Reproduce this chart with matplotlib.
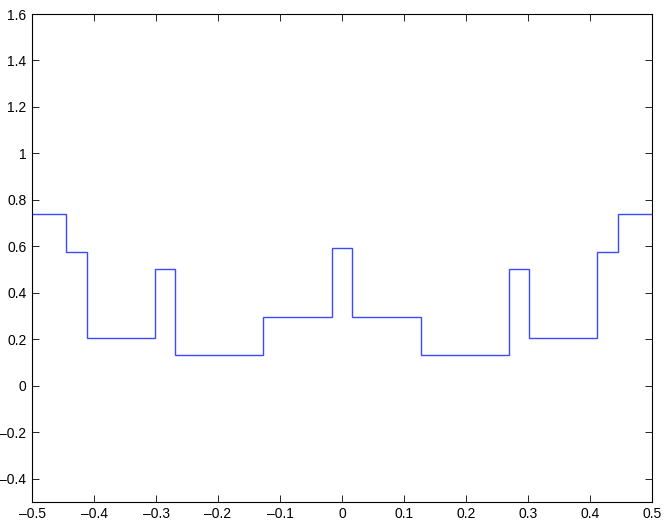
import numpy as np
import matplotlib.pyplot as plt
from matplotlib.ticker import FuncFormatter

# Piecewise-constant response
edges = [-0.5, -0.445, -0.412, -0.302, -0.270, -0.127, -0.0167,
         0.0167, 0.127, 0.270, 0.302, 0.412, 0.445, 0.5]
levels = [0.739, 0.574, 0.205, 0.501, 0.132, 0.295, 0.592,
          0.295, 0.132, 0.501, 0.205, 0.574, 0.739]

xticks = np.arange(-5, 6) / 10
yticks = np.arange(-4, 17, 2) / 10

plt.rcParams['font.family'] = ['Liberation Sans', 'DejaVu Sans']

fig = plt.figure(figsize=(6.67, 5.2), dpi=100)
ax = fig.add_axes([0.048, 0.035, 0.9295, 0.938])
ax.stairs(levels, edges, color="#3a4bff", linewidth=1.0, baseline=None)

ax.set_xlim(-0.5, 0.5)
ax.set_ylim(-0.5, 1.6)
ax.set_xticks(xticks)
ax.set_yticks(yticks)
fmt = FuncFormatter(lambda v, p: ("%g" % round(v, 2)).replace("-", "\u2013"))
ax.xaxis.set_major_formatter(fmt)
ax.yaxis.set_major_formatter(fmt)
ax.tick_params(direction="in", top=True, right=True, length=5, width=0.6,
               labelsize=10, pad=4)
for s in ax.spines.values():
    s.set_linewidth(0.8)

fig.savefig("out.png", dpi=100)
